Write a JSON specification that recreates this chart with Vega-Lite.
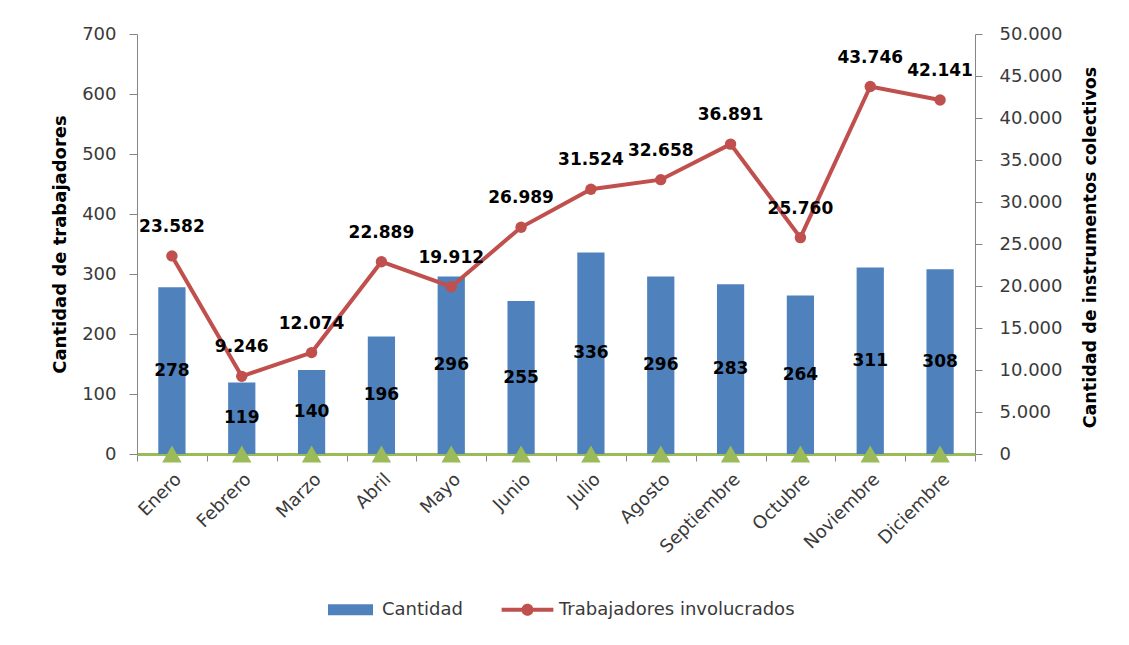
{
  "$schema": "https://vega.github.io/schema/vega-lite/v6.json",
  "width": 838,
  "height": 420,
  "autosize": {"type": "none"},
  "padding": {"left": 137, "top": 34, "right": 154, "bottom": 191},
  "background": "white",
  "config": {
    "view": {"stroke": null},
    "font": "DejaVu Sans",
    "axis": {"grid": false, "labelFont": "DejaVu Sans", "titleFont": "DejaVu Sans"}
  },
  "data": {
    "values": [
      {"Mes": "Enero", "Cantidad": 278, "Trabajadores": 23582, "Instrumentos": 0},
      {"Mes": "Febrero", "Cantidad": 119, "Trabajadores": 9246, "Instrumentos": 0},
      {"Mes": "Marzo", "Cantidad": 140, "Trabajadores": 12074, "Instrumentos": 0},
      {"Mes": "Abril", "Cantidad": 196, "Trabajadores": 22889, "Instrumentos": 0},
      {"Mes": "Mayo", "Cantidad": 296, "Trabajadores": 19912, "Instrumentos": 0},
      {"Mes": "Junio", "Cantidad": 255, "Trabajadores": 26989, "Instrumentos": 0},
      {"Mes": "Julio", "Cantidad": 336, "Trabajadores": 31524, "Instrumentos": 0},
      {"Mes": "Agosto", "Cantidad": 296, "Trabajadores": 32658, "Instrumentos": 0},
      {"Mes": "Septiembre", "Cantidad": 283, "Trabajadores": 36891, "Instrumentos": 0},
      {"Mes": "Octubre", "Cantidad": 264, "Trabajadores": 25760, "Instrumentos": 0},
      {"Mes": "Noviembre", "Cantidad": 311, "Trabajadores": 43746, "Instrumentos": 0},
      {"Mes": "Diciembre", "Cantidad": 308, "Trabajadores": 42141, "Instrumentos": 0}
    ]
  },
  "encoding": {
    "x": {
      "field": "Mes",
      "type": "nominal",
      "sort": null,
      "scale": {"paddingInner": 0, "paddingOuter": 0},
      "axis": {
        "title": null,
        "labelAngle": -45,
        "labelFontSize": 18,
        "labelColor": "#3a3a3a",
        "labelPadding": 9,
        "labelOffset": 0,
        "tickBand": "extent",
        "tickSize": 7,
        "tickColor": "#868686",
        "domainColor": "#9BBB59",
        "domainWidth": 3
      }
    }
  },
  "layer": [
    {
      "mark": {"type": "bar", "width": {"band": 0.39}},
      "encoding": {
        "y": {
          "field": "Cantidad",
          "type": "quantitative",
          "scale": {"domain": [0, 700]},
          "axis": {
            "orient": "left",
            "values": [0, 100, 200, 300, 400, 500, 600, 700],
            "title": "Cantidad de trabajadores",
            "titleFontSize": 18,
            "titleFontWeight": "bold",
            "titleColor": "black",
            "titleX": -77,
            "titleY": 210,
            "titleAngle": -90,
            "titleAlign": "center",
            "titleBaseline": "middle",
            "labelFontSize": 18,
            "labelColor": "#3a3a3a",
            "labelPadding": 13,
            "tickSize": 8,
            "tickColor": "#868686",
            "domainColor": "#868686"
          }
        },
        "color": {
          "datum": "Cantidad",
          "type": "nominal",
          "scale": {"domain": ["Cantidad", "Trabajadores involucrados"], "range": ["#4F81BD", "#C0504D"]},
          "legend": {
            "orient": "none",
            "legendX": 191,
            "legendY": 553,
            "direction": "horizontal",
            "title": null,
            "symbolSize": 2025,
            "labelFontSize": 18,
            "labelFont": "DejaVu Sans",
            "labelColor": "#3a3a3a",
            "labelOffset": 9,
            "labelLimit": 500,
            "columnPadding": 38,
            "padding": 0,
            "symbolStrokeWidth": 0,
            "encode": {
              "symbols": {
                "update": {
                  "shape": {"signal": "datum.value === 'Cantidad' ? 'M-1,-0.24H1V0.24H-1Z' : 'M-1.15,-0.09H-0.26V0.09H-1.15Z M0.26,-0.09H1.15V0.09H0.26Z M0.27,0A0.27,0.27 0 1,1 -0.27,0A0.27,0.27 0 1,1 0.27,0Z'"},
                  "fill": {"scale": "color", "field": "value"},
                  "stroke": {"value": "transparent"},
                  "opacity": {"value": 1}
                }
              }
            }
          }
        }
      }
    },
    {
      "mark": {"type": "text", "fontSize": 17, "fontWeight": "bold", "color": "black", "baseline": "middle"},
      "encoding": {
        "y": {"field": "Cantidad", "type": "quantitative", "scale": {"domain": [0, 1400]}, "axis": null},
        "text": {"field": "Cantidad", "type": "quantitative"}
      }
    },
    {
      "mark": {"type": "line", "strokeWidth": 4, "point": {"filled": true, "size": 130}},
      "encoding": {
        "y": {
          "field": "Trabajadores",
          "type": "quantitative",
          "scale": {"domain": [0, 50000]},
          "axis": {
            "orient": "right",
            "values": [0, 5000, 10000, 15000, 20000, 25000, 30000, 35000, 40000, 45000, 50000],
            "labelExpr": "replace(format(datum.value, ',d'), ',', '.')",
            "title": "Cantidad de instrumentos colectivos",
            "titleFontSize": 17.5,
            "titleFontWeight": "bold",
            "titleColor": "black",
            "titleX": 115,
            "titleY": 213,
            "titleAngle": -90,
            "titleAlign": "center",
            "titleBaseline": "middle",
            "labelFontSize": 18,
            "labelColor": "#3a3a3a",
            "labelPadding": 17,
            "tickSize": 7,
            "tickColor": "#868686",
            "domainColor": "#868686"
          }
        },
        "color": {
          "datum": "Trabajadores involucrados",
          "type": "nominal"
        }
      }
    },
    {
      "mark": {
        "type": "text",
        "fontSize": 17,
        "fontWeight": "bold",
        "color": "black",
        "baseline": "middle",
        "dy": -29,
        "text": {"expr": "replace(format(datum.Trabajadores, ',d'), ',', '.')"}
      },
      "encoding": {
        "y": {"field": "Trabajadores", "type": "quantitative", "scale": {"domain": [0, 50000]}, "axis": null}
      }
    },
    {
      "mark": {"type": "point", "shape": "triangle-up", "filled": true, "size": 380, "color": "#9BBB59", "opacity": 1, "strokeWidth": 0},
      "encoding": {
        "y": {"field": "Instrumentos", "type": "quantitative", "scale": {"domain": [0, 50000]}, "axis": null}
      }
    }
  ],
  "resolve": {"scale": {"y": "independent"}}
}
